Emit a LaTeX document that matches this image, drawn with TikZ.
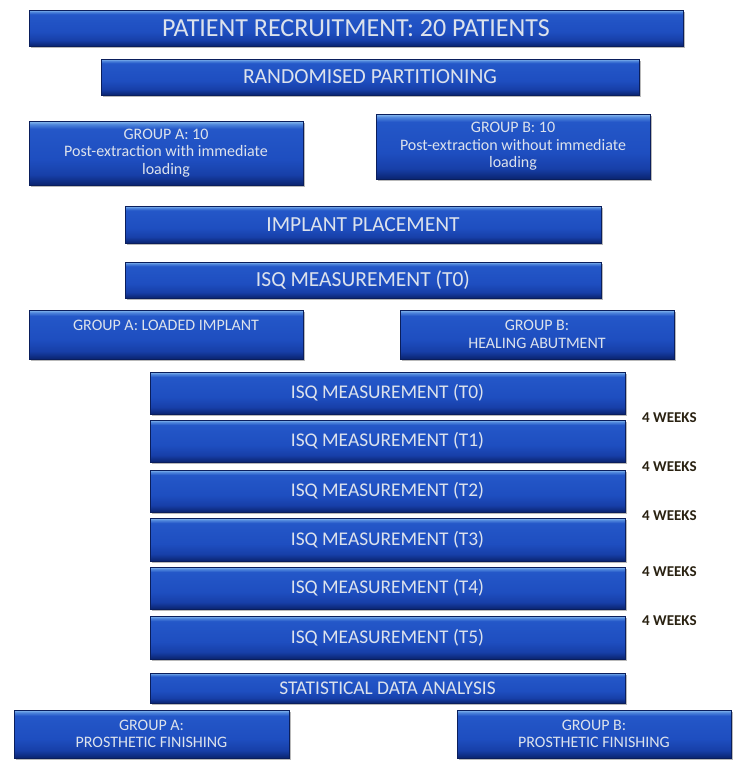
\documentclass[tikz,border=0pt]{standalone}
\usepackage{fontspec}
\setmainfont{Carlito}
\usetikzlibrary{shadows}
\definecolor{bhi}{HTML}{8EC0F0}
\definecolor{bhi2}{HTML}{4F86DC}
\definecolor{btop}{HTML}{2457C8}
\definecolor{bmid}{HTML}{1E4EC0}
\definecolor{bdk}{HTML}{173FA8}
\definecolor{bbot}{HTML}{0A2470}
\definecolor{bline}{HTML}{0A1E5C}
\definecolor{btext}{HTML}{DCE2EC}
\definecolor{wk}{HTML}{2A2212}
\pgfdeclareverticalshading{boxshade}{100bp}{color(0bp)=(bbot); color(25bp)=(bbot); color(33bp)=(bdk); color(45bp)=(bmid); color(69bp)=(btop); color(72.5bp)=(bhi2); color(75bp)=(bhi); color(100bp)=(bhi)}
\tikzset{
  bx/.style={draw=bline, line width=0.5pt, shading=boxshade,
    text=btext, align=center, inner sep=1pt,
    drop shadow={shadow xshift=1.5pt, shadow yshift=-2pt, opacity=0.55}},
  big/.style={font=\fontsize{26}{28}\selectfont},
  mid/.style={font=\fontsize{21.5}{24}\selectfont},
  isq/.style={font=\fontsize{19.4}{22}\selectfont},
  sm/.style={font=\fontsize{16}{17.5}\selectfont},
  wks/.style={anchor=west, text=wk, font=\bfseries\fontsize{15}{17}\selectfont, inner sep=0pt}
}
\begin{document}
\begin{tikzpicture}[x=1pt,y=-1pt]
\useasboundingbox[fill=white] (0,0) rectangle (746,779);
\node[bx,big,minimum width=654pt,minimum height=36pt] (rec) at (356,28) {PATIENT RECRUITMENT: 20 PATIENTS};
\node[bx,mid,minimum width=538pt,minimum height=36pt] (rand) at (370,77) {RANDOMISED PARTITIONING};
\node[bx,sm,minimum width=274pt,minimum height=64pt] (ga) at (166,153) {GROUP A: 10\\Post-extraction with immediate\\loading};
\node[bx,sm,minimum width=274pt,minimum height=65pt] (gb) at (513,146.5) {GROUP B: 10\\Post-extraction without immediate\\loading};
\node[bx,mid,minimum width=476pt,minimum height=37pt] (impl) at (363,224.5) {IMPLANT PLACEMENT};
\node[bx,mid,minimum width=476pt,minimum height=36pt] (isqa) at (363,280) {ISQ MEASUREMENT (T0)};
\node[bx,sm,minimum width=274pt,minimum height=49pt] (gal) at (166,334.5) {GROUP A: LOADED IMPLANT\\\phantom{X}};
\node[bx,sm,minimum width=274pt,minimum height=49pt] (gbh) at (537,334.5) {GROUP B:\\HEALING ABUTMENT};
\node[bx,isq,minimum width=475pt,minimum height=42pt] (t0) at (387.5,393) {ISQ MEASUREMENT (T0)};
\node[bx,isq,minimum width=475pt,minimum height=42pt] (t1) at (387.5,441) {ISQ MEASUREMENT (T1)};
\node[bx,isq,minimum width=475pt,minimum height=42pt] (t2) at (387.5,491) {ISQ MEASUREMENT (T2)};
\node[bx,isq,minimum width=475pt,minimum height=43pt] (t3) at (387.5,539.5) {ISQ MEASUREMENT (T3)};
\node[bx,isq,minimum width=475pt,minimum height=42pt] (t4) at (387.5,588) {ISQ MEASUREMENT (T4)};
\node[bx,isq,minimum width=475pt,minimum height=43pt] (t5) at (387.5,637.5) {ISQ MEASUREMENT (T5)};
\node[bx,isq,minimum width=475pt,minimum height=30pt] (stat) at (387.5,688) {STATISTICAL DATA ANALYSIS};
\node[bx,sm,minimum width=275pt,minimum height=48pt] (fa) at (151.5,734) {GROUP A:\\PROSTHETIC FINISHING};
\node[bx,sm,minimum width=274pt,minimum height=48pt] (fb) at (594,734) {GROUP B:\\PROSTHETIC FINISHING};
\node[wks] (w1) at (642,418) {4 WEEKS};
\node[wks] (w2) at (642,467) {4 WEEKS};
\node[wks] (w3) at (642,516) {4 WEEKS};
\node[wks] (w4) at (642,572) {4 WEEKS};
\node[wks] (w5) at (642,621) {4 WEEKS};
\end{tikzpicture}
\end{document}
